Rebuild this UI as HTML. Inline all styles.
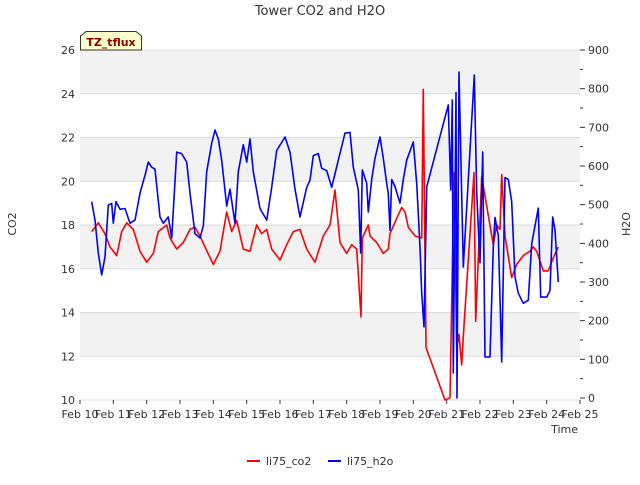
<!DOCTYPE html>
<html><head><meta charset="utf-8"><style>
body{margin:0;background:#fff;font-family:"Liberation Sans","DejaVu Sans",sans-serif}
svg text{font-family:"DejaVu Sans","Liberation Sans",sans-serif}
</style></head><body>
<svg id="chart" width="640" height="480" viewBox="0 0 640 480">
<text x="320" y="15" text-anchor="middle" font-size="13" fill="#333">Tower CO2 and H2O</text>
<g id="bands"></g>
<g id="axes"></g>
<g id="series"></g>
<text x="16" y="224" text-anchor="middle" font-size="11" fill="#333" transform="rotate(-90 16 224)">CO2</text>
<text x="630" y="224" text-anchor="middle" font-size="11" fill="#333" transform="rotate(-90 630 224)">H2O</text>
<text x="578" y="433" text-anchor="end" font-size="11" fill="#333">Time</text>
<g>
<path d="M80.5,50 L80.5,36 L86,31.5 L136,31.5 L141.5,36 L141.5,50 Z" fill="#ffffcc" stroke="#333" stroke-width="1"/>
<text x="111" y="46" text-anchor="middle" font-size="11" font-weight="bold" fill="#8b0000">TZ_tflux</text>
</g>
<g>
<g><line x1="247" y1="461" x2="260" y2="461" stroke="#f00" stroke-width="2"/><text x="266" y="465" font-size="11" fill="#333">li75_co2</text></g>
<g><line x1="328" y1="461" x2="341" y2="461" stroke="#00f" stroke-width="2"/><text x="347" y="465" font-size="11" fill="#333">li75_h2o</text></g>
</g>
</svg>
<script>
const xTickLabels=["Feb 10","Feb 11","Feb 12","Feb 13","Feb 14","Feb 15","Feb 16","Feb 17","Feb 18","Feb 19","Feb 20","Feb 21","Feb 22","Feb 23","Feb 24","Feb 25"];
const leftTicks=[10,12,14,16,18,20,22,24,26];
const rightTicks=[0,100,200,300,400,500,600,700,800,900];
const co2Days=[0.35,0.55,0.75,0.9,1.1,1.25,1.4,1.6,1.8,2.0,2.2,2.35,2.6,2.7,2.9,3.1,3.3,3.45,3.6,3.75,4.0,4.2,4.4,4.55,4.7,4.9,5.1,5.3,5.45,5.6,5.75,6.0,6.2,6.4,6.6,6.8,7.05,7.3,7.5,7.65,7.8,8.0,8.15,8.3,8.43,8.47,8.65,8.7,8.9,9.1,9.25,9.3,9.5,9.65,9.75,9.85,10.05,10.25,10.3,10.38,10.95,11.1,11.22,11.3,11.37,11.45,11.5,11.82,11.87,12.05,12.4,12.5,12.6,12.65,12.75,12.95,13.1,13.3,13.5,13.6,13.7,13.9,14.05,14.2,14.35];
const co2Vals=[17.7,18.1,17.6,17.0,16.6,17.7,18.1,17.8,16.8,16.3,16.7,17.7,18.0,17.4,16.9,17.2,17.8,17.9,17.5,17.0,16.2,16.8,18.6,17.7,18.2,16.9,16.8,18.0,17.6,17.8,16.9,16.4,17.1,17.7,17.8,16.9,16.3,17.5,18.0,19.6,17.2,16.7,17.1,16.9,13.8,17.4,18.0,17.5,17.2,16.7,16.9,17.6,18.3,18.8,18.6,17.9,17.5,17.4,24.2,12.4,10.0,10.1,20.4,12.4,13.0,11.6,12.9,20.4,13.6,20.2,17.1,18.0,17.8,20.3,17.5,15.6,16.2,16.6,16.8,17.0,16.8,15.9,15.9,16.5,17.0];
const h2oDays=[0.35,0.45,0.55,0.65,0.75,0.85,0.95,1.0,1.08,1.2,1.35,1.5,1.65,1.8,1.95,2.05,2.15,2.25,2.4,2.5,2.65,2.75,2.9,3.05,3.2,3.3,3.45,3.6,3.7,3.8,3.95,4.05,4.15,4.25,4.4,4.5,4.65,4.75,4.9,5.0,5.1,5.2,5.4,5.6,5.75,5.9,6.15,6.3,6.45,6.6,6.8,6.9,7.0,7.15,7.25,7.4,7.55,7.75,7.95,8.1,8.2,8.35,8.42,8.47,8.6,8.65,8.75,8.85,9.0,9.1,9.2,9.25,9.3,9.35,9.45,9.6,9.7,9.8,10.0,10.1,10.2,10.25,10.32,10.4,11.05,11.12,11.17,11.2,11.28,11.31,11.37,11.5,11.83,11.9,12.0,12.08,12.15,12.3,12.4,12.45,12.55,12.65,12.75,12.85,12.95,13.05,13.15,13.3,13.45,13.55,13.75,13.82,14.0,14.1,14.18,14.25,14.35];
const h2oVals=[508,460,375,318,365,499,503,452,508,488,490,452,460,530,576,610,597,592,468,452,468,414,636,632,610,530,425,414,445,585,659,693,670,615,496,540,452,585,655,610,670,585,490,460,545,640,675,636,540,468,545,563,627,632,594,588,545,615,685,687,597,538,375,590,555,481,565,620,675,620,555,528,434,565,547,504,565,615,662,555,390,271,184,546,758,538,771,65,790,0,843,339,835,530,350,636,106,106,390,467,420,93,570,565,508,313,271,245,253,399,491,261,261,278,468,434,300];

const NS="http://www.w3.org/2000/svg";
const L=80,R=580,T=50,B=400;
const xS=d=>L+d*(R-L)/15;
const yL=v=>B-(v-10)*(B-T)/16;
const yR=v=>398-v*(348/900);
function mk(tag,attrs,parent){const e=document.createElementNS(NS,tag);for(const k in attrs)e.setAttribute(k,attrs[k]);parent.appendChild(e);return e;}
const bands=document.getElementById('bands'),axes=document.getElementById('axes'),series=document.getElementById('series');
const plotBg=mk('rect',{x:L,y:T,width:R-L,height:B-T,fill:'#fff'},bands);


for(let i=0;i<leftTicks.length-1;i++){
  if(i%2===1){const r=mk('rect',{x:L,y:yL(leftTicks[i+1]),width:R-L,height:yL(leftTicks[i])-yL(leftTicks[i+1]),fill:'#f2f2f2'},bands);
  
  }
}
leftTicks.forEach(v=>{
  const g=mk('line',{x1:L,x2:R,y1:yL(v),y2:yL(v),stroke:'#dcdcdc','stroke-width':1},bands);
  
  
  const t=mk('text',{x:L-5,y:yL(v)+4,'text-anchor':'end','font-size':11,fill:'#333'},axes);t.textContent=v;
  
  
});
rightTicks.forEach(v=>{
  const tk=mk('line',{x1:R,x2:R+5,y1:yR(v),y2:yR(v),stroke:'#333'},axes);
  
  
  const t=mk('text',{x:R+8,y:yR(v)+4,'font-size':11,fill:'#333'},axes);t.textContent=v;
  
  
  if(v<900){const m=mk('line',{x1:R,x2:R+3,y1:yR(v+50),y2:yR(v+50),stroke:'#333'},axes);
  
  }
});
xTickLabels.forEach((s,i)=>{
  const tk=mk('line',{x1:xS(i),x2:xS(i),y1:B,y2:B+4,stroke:'#333'},axes);
  
  
  const t=mk('text',{x:xS(i),y:B+18,'text-anchor':'middle','font-size':11,fill:'#333'},axes);t.textContent=s;
  
  
});
const co2Path=mk('path',{d:co2Days.map((d,i)=>(i?'L':'M')+xS(d).toFixed(1)+','+yL(co2Vals[i]).toFixed(1)).join(''),fill:'none',stroke:'#f00','stroke-width':1.6,'stroke-linejoin':'round'},series);


const h2oPath=mk('path',{d:h2oDays.map((d,i)=>(i?'L':'M')+xS(d).toFixed(1)+','+yR(h2oVals[i]).toFixed(1)).join(''),fill:'none',stroke:'#00f','stroke-width':1.6,'stroke-linejoin':'round'},series);


</script>
</body></html>
